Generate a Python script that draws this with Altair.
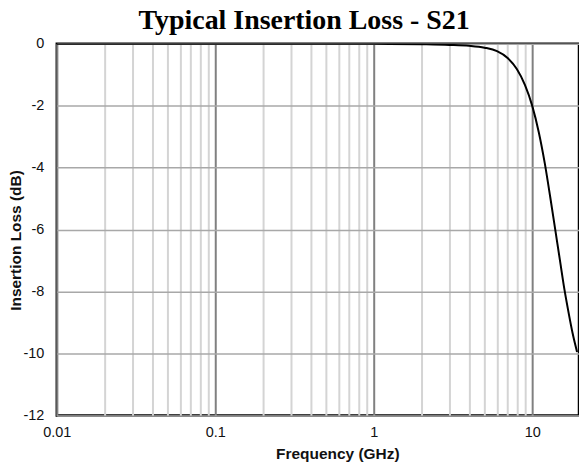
import altair as alt
import pandas as pd

freq_ghz = [0.01, 0.1, 0.5, 1, 2, 3, 4, 5, 6, 7, 8, 9, 10, 11, 12, 13, 14, 15, 16, 17, 18, 19.2]
loss_db = [0.0, 0.0, 0.0, -0.005, -0.02, -0.04, -0.07, -0.13, -0.24, -0.46, -0.82, -1.33, -2.0,
           -2.85, -3.85, -4.95, -6.02, -7.02, -7.95, -8.7, -9.35, -9.95]

x_grid_values = [m * d for d in [0.01, 0.1, 1, 10] for m in range(1, 10) if m * d < 19.5]
y_tick_values = [0, -2, -4, -6, -8, -10, -12]

df = pd.DataFrame({"f": freq_ghz, "il": loss_db})

is_decade = "abs(log(datum.value)/LN10 - round(log(datum.value)/LN10)) < 1e-6"

chart = alt.Chart(df).mark_line(
    color="black", strokeWidth=2, interpolate="monotone", clip=True
).encode(
    x=alt.X("f:Q",
            scale=alt.Scale(type="log", domain=[0.01, 19.75], nice=False),
            axis=alt.Axis(
                title="Frequency (GHz)",
                values=x_grid_values,
                labelExpr=f"({is_decade}) ? format(datum.value, '~g') : ''",
                ticks=False, domain=False, labelFlush=False,
                gridColor={"condition": {"test": is_decade, "value": "#808080"}, "value": "#d4d4d4"},
                gridWidth=2,
                labelPadding=10,
                labelFontSize=14.5, labelColor="#111", labelFont="Liberation Sans",
                titleFont="Liberation Sans", titleFontSize=15.5, titleFontWeight="bold",
                titleColor="#111", titleX=281.5, titleY=31, titleAlign="center", titleBaseline="top",
            )),
    y=alt.Y("il:Q",
            scale=alt.Scale(domain=[-12, 0], nice=False),
            axis=alt.Axis(
                title="Insertion Loss (dB)",
                values=y_tick_values,
                labelExpr="'' + datum.value",
                ticks=False, domain=False, labelFlush=False,
                gridColor="#a8a8a8", gridWidth=1.5,
                labelPadding=13,
                labelFontSize=14.5, labelColor="#111", labelFont="Liberation Sans",
                titleFont="Liberation Sans", titleFontSize=15.5, titleFontWeight="bold",
                titleColor="#111", titleY=197, titleX=-41, titleAlign="center",
                titleBaseline="middle",
            )),
).properties(
    width=524, height=373,
    title=alt.TitleParams(
        "Typical Insertion Loss - S21",
        font="Liberation Serif", fontSize=28, fontWeight="bold", color="black",
        anchor="start", dx=130, offset=1,
    ),
    autosize=alt.AutoSizeParams(type="none"),
    padding={"left": 57, "top": 43, "right": 0, "bottom": 58},
).configure_view(
    stroke="black", strokeWidth=2.5
)

chart.save("out.html", embed_options={"renderer": "svg", "actions": False})
